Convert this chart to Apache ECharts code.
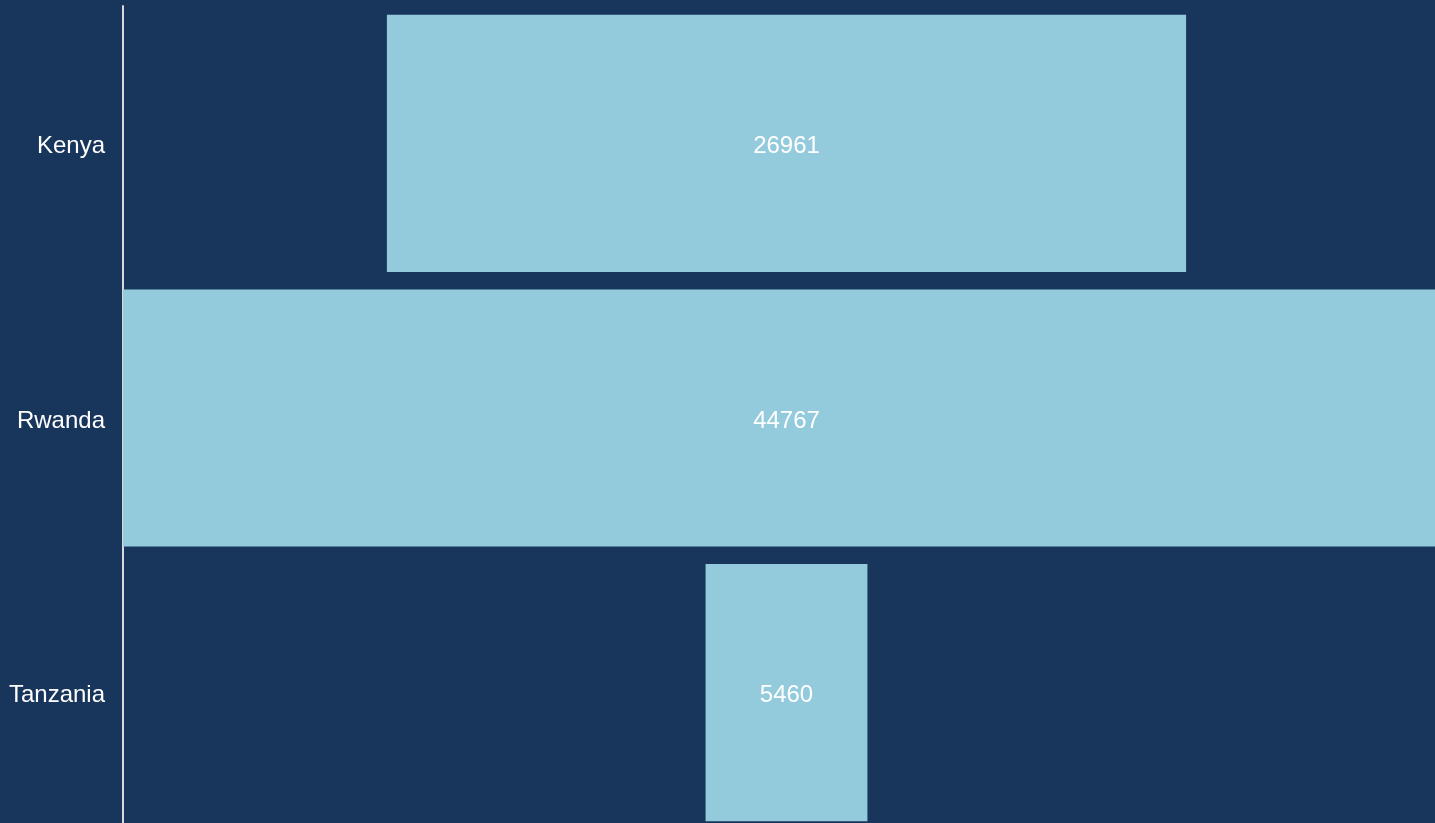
<!DOCTYPE html>
<html><head><meta charset="utf-8">
<script src="https://cdn.jsdelivr.net/npm/echarts@6/dist/echarts.min.js"></script>
<style>html,body{margin:0;padding:0;background:#18365c;overflow:hidden;width:1435px;height:823px;}#c{width:1450px;height:830px;}</style>
</head><body><div id="c"></div>
<script>
const categories = ["Kenya", "Rwanda", "Tanzania"];
const values = [26961, 44767, 5460];

const maxV = Math.max(...values);
const offsets = values.map(v => (maxV - v) / 2);

const chart = echarts.init(document.getElementById('c'));
chart.setOption({
  backgroundColor: '#18365c',
  animation: false,
  textStyle: { fontFamily: 'Liberation Sans, Arial, sans-serif' },
  grid: { left: 123, right: 0, top: 6, bottom: 0, containLabel: false },
  xAxis: { type: 'value', min: 0, max: maxV, show: false },
  yAxis: {
    type: 'category', data: categories, inverse: true,
    axisLine: { show: true, lineStyle: { color: '#d9d9d9', width: 2 } },
    axisTick: { show: false },
    axisLabel: {
      color: '#ffffff', fontSize: 24, margin: 18,
      formatter: '{a|{value}}',
      rich: { a: { color: '#ffffff', fontSize: 24, padding: [6, 0, 0, 0] } }
    }
  },
  series: [
    { type: 'bar', stack: 's', data: offsets, itemStyle: { color: 'transparent' }, barCategoryGap: '6.4%', silent: true },
    { type: 'bar', stack: 's', data: values, barCategoryGap: '6.4%',
      itemStyle: { color: '#93cbdc' },
      label: { show: true, position: 'inside', color: '#ffffff', fontSize: 24, offset: [0, 3] } }
  ]
});
</script></body></html>
